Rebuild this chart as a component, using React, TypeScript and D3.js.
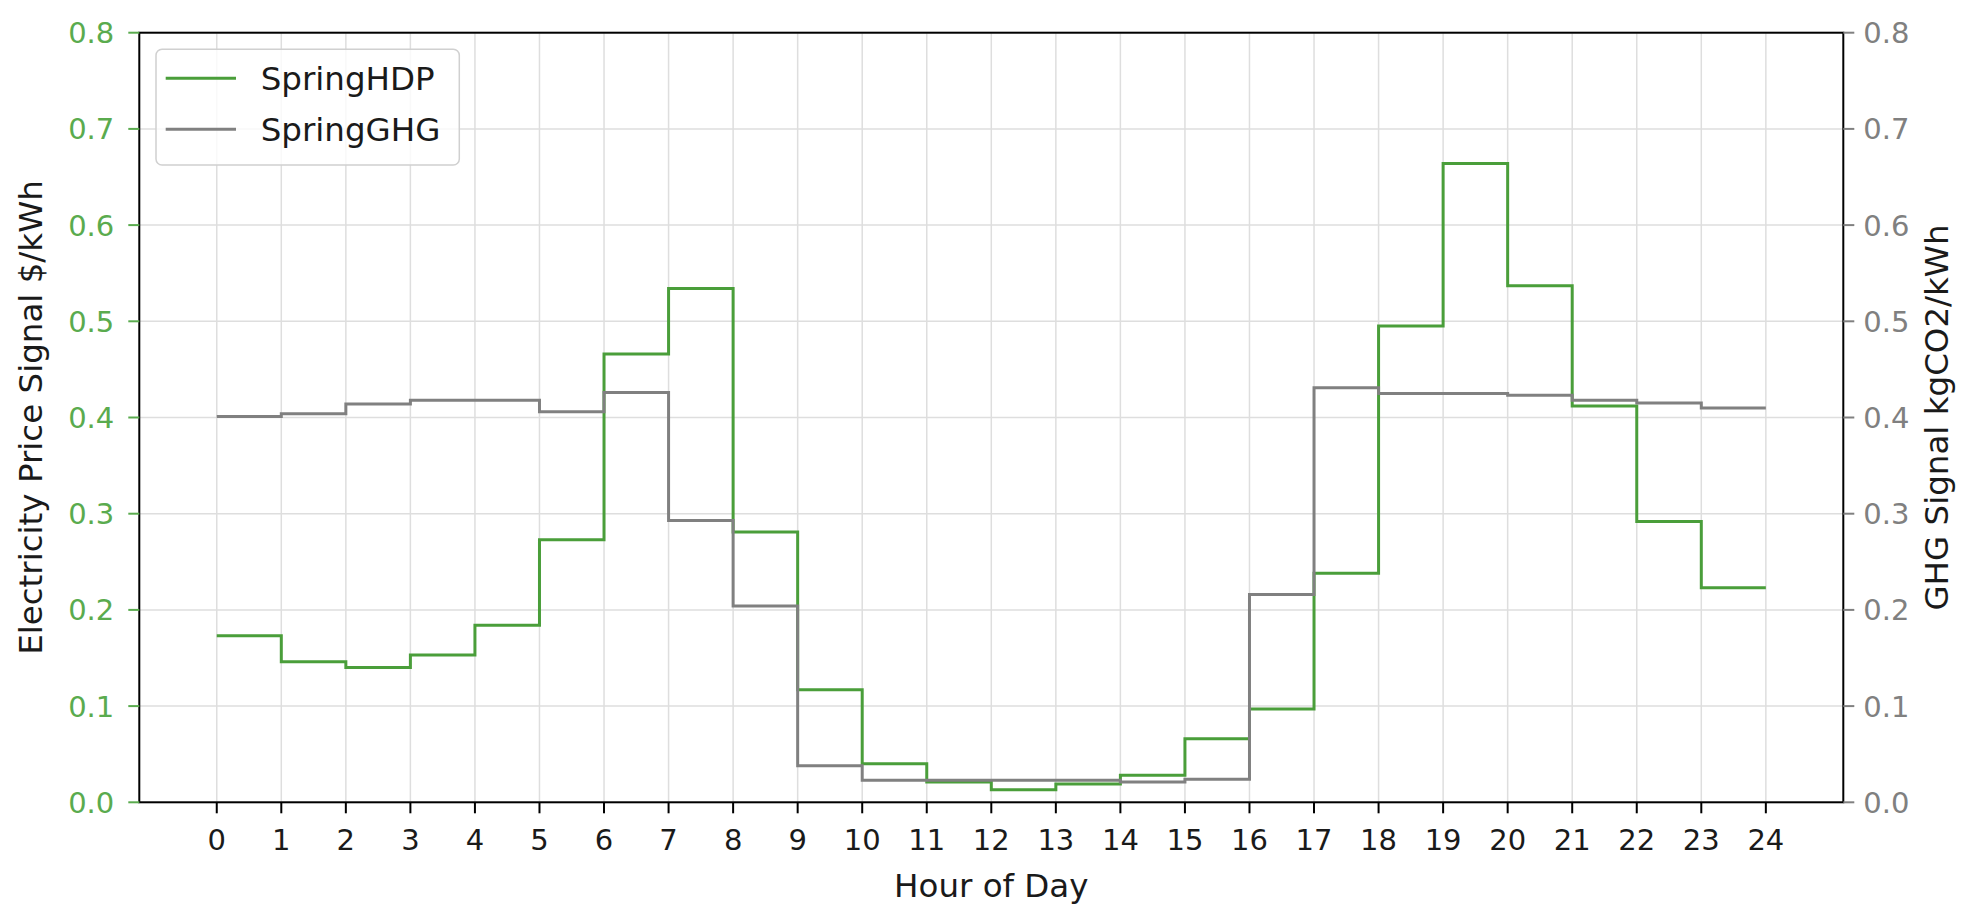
import React from "react";
import * as d3 from "d3";

const hours: number[] = d3.range(0, 24);
const springHDP: number[] = [0.173, 0.146, 0.140, 0.153, 0.184, 0.273, 0.466, 0.534, 0.281, 0.117, 0.040, 0.021, 0.013, 0.019, 0.028, 0.066, 0.097, 0.238, 0.495, 0.664, 0.537, 0.412, 0.292, 0.223];
const springGHG: number[] = [0.401, 0.404, 0.414, 0.418, 0.418, 0.406, 0.426, 0.293, 0.204, 0.038, 0.023, 0.023, 0.023, 0.023, 0.021, 0.024, 0.216, 0.431, 0.425, 0.425, 0.423, 0.418, 0.415, 0.410];
const xTicks: number[] = d3.range(0, 25);
const yTicks: number[] = [0, 0.1, 0.2, 0.3, 0.4, 0.5, 0.6, 0.7, 0.8];
const seriesNames: string[] = ["SpringHDP", "SpringGHG"];

const W = 1974;
const H = 918;
const left = 139.3;
const right = 1843.3;
const top = 32.7;
const bottom = 802.3;

const GREEN = "#4a9e3a";
const GREEN_TXT = "#5aab4e";
const GRAY = "#808080";
const FONT = "DejaVu Sans, sans-serif";

export default function App() {
  const x = d3.scaleLinear().domain([-1.2, 25.2]).range([left, right]);
  const yL = d3.scaleLinear().domain([0, 0.8]).range([bottom, top]);
  const yR = d3.scaleLinear().domain([0, 0.8]).range([bottom, top]);

  const stepPts = (vals: number[]) => {
    const pts: [number, number][] = hours.map((h, i) => [h, vals[i]]);
    pts.push([24, vals[vals.length - 1]]);
    return pts;
  };
  const lineL = d3.line<[number, number]>().x((d) => x(d[0])).y((d) => yL(d[1])).curve(d3.curveStepAfter);
  const lineR = d3.line<[number, number]>().x((d) => x(d[0])).y((d) => yR(d[1])).curve(d3.curveStepAfter);

  return (
    <div style={{ position: "fixed", left: 0, top: 0 }}>
      <svg width={W} height={H} style={{ display: "block", background: "#fff" }} fontFamily={FONT}>
        <rect x={0} y={0} width={W} height={H} fill="#fff" />
        {/* grid */}
        {xTicks.map((t) => (
          <line key={"gx" + t} x1={x(t)} x2={x(t)} y1={top} y2={bottom} stroke="#dedede" strokeWidth={1.5} />
        ))}
        {yTicks.map((t) => (
          <line key={"gy" + t} x1={left} x2={right} y1={yL(t)} y2={yL(t)} stroke="#dedede" strokeWidth={1.5} />
        ))}
        {/* series */}
        <path d={lineL(stepPts(springHDP)) || ""} fill="none" stroke={GREEN} strokeWidth={3} />
        <path d={lineR(stepPts(springGHG)) || ""} fill="none" stroke={GRAY} strokeWidth={3} />
        {/* frame */}
        <rect x={left} y={top} width={right - left} height={bottom - top} fill="none" stroke="#000" strokeWidth={2} />
        {/* x ticks */}
        {xTicks.map((t) => (
          <g key={"xt" + t}>
            <line x1={x(t)} x2={x(t)} y1={bottom} y2={bottom + 11} stroke="#000" strokeWidth={2} />
            <text x={x(t)} y={bottom + 48} textAnchor="middle" fontSize={29} fill="#1a1a1a">{String(t)}</text>
          </g>
        ))}
        {/* left y ticks */}
        {yTicks.map((t) => (
          <g key={"yl" + t}>
            <line x1={left - 11} x2={left} y1={yL(t)} y2={yL(t)} stroke={GREEN_TXT} strokeWidth={2} />
            <text x={left - 25} y={yL(t)} dy="0.36em" textAnchor="end" fontSize={29} fill={GREEN_TXT}>{t.toFixed(1)}</text>
          </g>
        ))}
        {/* right y ticks */}
        {yTicks.map((t) => (
          <g key={"yr" + t}>
            <line x1={right} x2={right + 11} y1={yR(t)} y2={yR(t)} stroke={GRAY} strokeWidth={2} />
            <text x={right + 20} y={yR(t)} dy="0.36em" textAnchor="start" fontSize={29} fill={GRAY}>{t.toFixed(1)}</text>
          </g>
        ))}
        {/* axis labels */}
        <text x={(left + right) / 2} y={897} textAnchor="middle" fontSize={32.5} fill="#1a1a1a">Hour of Day</text>
        <text transform={`translate(42, ${(top + bottom) / 2}) rotate(-90)`} textAnchor="middle" fontSize={32.5} fill="#1a1a1a">Electricity Price Signal $/kWh</text>
        <text transform={`translate(1948, ${(top + bottom) / 2}) rotate(-90)`} textAnchor="middle" fontSize={32.5} fill="#1a1a1a">GHG Signal kgCO2/kWh</text>
        {/* legend */}
        <rect x={156} y={49.3} width={303.3} height={115.7} rx={6} fill="#fff" fillOpacity={0.8} stroke="#d0d0d0" strokeWidth={1.5} />
        {seriesNames.map((name, i) => (
          <g key={name}>
            <line x1={165.7} x2={236} y1={78.3 + i * 51} y2={78.3 + i * 51} stroke={i === 0 ? GREEN : GRAY} strokeWidth={3} />
            <text x={260.7} y={78.3 + i * 51} dy="0.36em" fontSize={32.5} fill="#1a1a1a">{name}</text>
          </g>
        ))}
      </svg>
    </div>
  );
}
